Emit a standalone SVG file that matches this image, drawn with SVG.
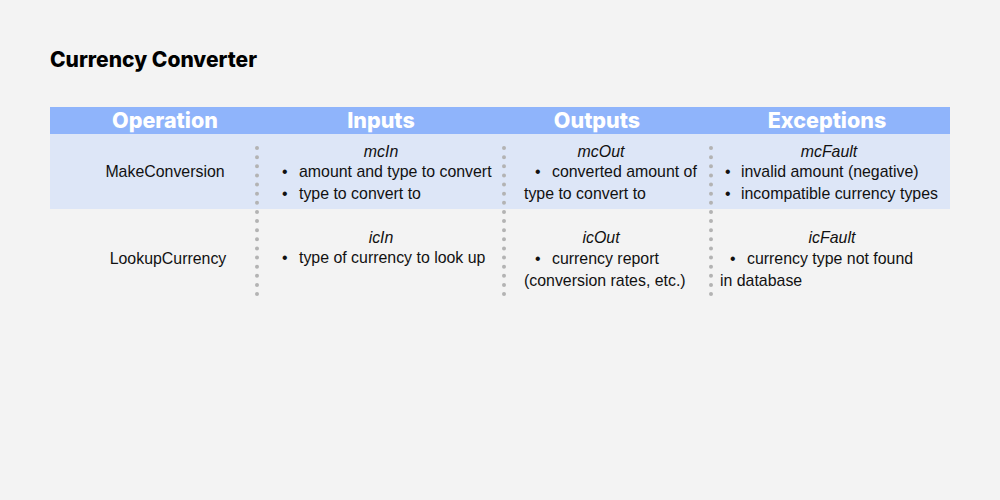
<svg xmlns="http://www.w3.org/2000/svg" width="1000" height="500" viewBox="0 0 1000 500">
<style>
.t{font-family:"Liberation Sans",Arial,sans-serif;font-size:15.9px;fill:#111}
.i{font-style:italic}
.m{text-anchor:middle}
.h{font-family:"Inter","DejaVu Sans",sans-serif;font-weight:800;font-size:21.5px;fill:#fff;text-anchor:middle}
.d{stroke:#b3b3b3;stroke-width:4;stroke-linecap:round;stroke-dasharray:0 9.125;fill:none}
</style>
<rect width="1000" height="500" fill="#f3f3f3"/>
<text x="50" y="67" font-family="Inter, DejaVu Sans, sans-serif" font-weight="800" font-size="21" fill="#000">Currency Converter</text>
<g id="header">
<rect x="50" y="107" width="900" height="27" fill="#8fb4fb"/>
<text class="h" x="165" y="128">Operation</text>
<text class="h" x="381" y="128">Inputs</text>
<text class="h" x="597" y="128">Outputs</text>
<text class="h" x="827" y="128">Exceptions</text>
</g>
<g id="row1">
<rect x="50" y="134" width="900" height="75" fill="#dde6f7"/>
<text class="t m" x="165" y="177">MakeConversion</text>
<text class="t i m" x="381" y="157">mcIn</text>
<text class="t" x="282" y="177">•</text><text class="t" x="299" y="177">amount and type to convert</text>
<text class="t" x="282" y="199">•</text><text class="t" x="299" y="199">type to convert to</text>
<text class="t i m" x="601" y="157">mcOut</text>
<text class="t" x="535" y="177">•</text><text class="t" x="552" y="177">converted amount of</text>
<text class="t" x="524" y="199">type to convert to</text>
<text class="t i m" x="829" y="157">mcFault</text>
<text class="t" x="725" y="177">•</text><text class="t" x="741" y="177">invalid amount (negative)</text>
<text class="t" x="725" y="199">•</text><text class="t" x="741" y="199">incompatible currency types</text>
</g>
<g id="row2">
<text class="t m" x="168" y="264">LookupCurrency</text>
<text class="t i m" x="381" y="243">icIn</text>
<text class="t" x="282" y="263">•</text><text class="t" x="299" y="263">type of currency to look up</text>
<text class="t i m" x="601" y="243">icOut</text>
<text class="t" x="535" y="264">•</text><text class="t" x="552" y="264">currency report</text>
<text class="t" x="524" y="286">(conversion rates, etc.)</text>
<text class="t i m" x="832" y="243">icFault</text>
<text class="t" x="730" y="264">•</text><text class="t" x="747" y="264">currency type not found</text>
<text class="t" x="720" y="286">in database</text>
</g>
<g id="connectors">
<line class="d" x1="257" y1="148" x2="257" y2="295"/>
<line class="d" x1="504" y1="148" x2="504" y2="295"/>
<line class="d" x1="711" y1="148" x2="711" y2="295"/>
</g>
</svg>
